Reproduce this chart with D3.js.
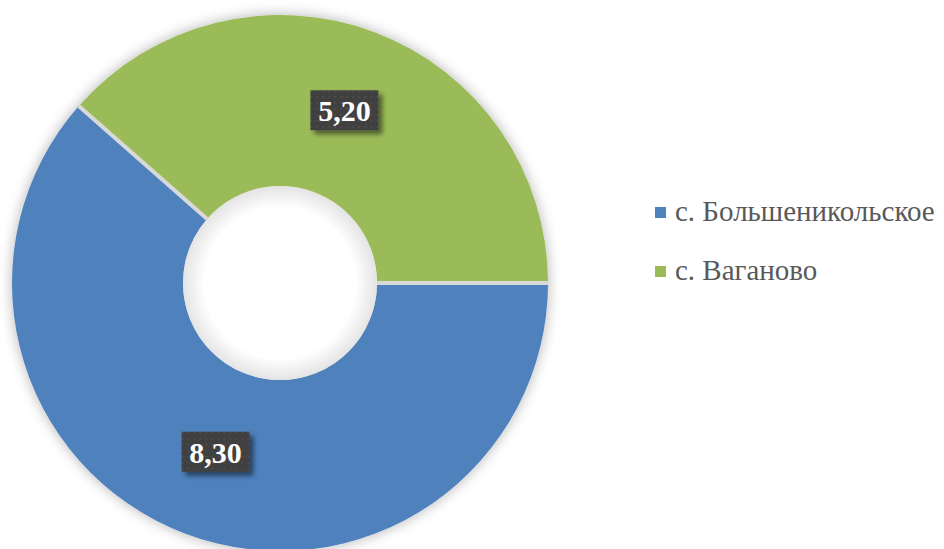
<!DOCTYPE html>
<html>
<head>
<meta charset="utf-8">
<script src="https://cdn.jsdelivr.net/npm/d3@7"></script>
</head>
<body style="margin:0">
<div id="chart"></div>
<script>
var categories = ['с. Большеникольское', 'с. Ваганово'],
    values = [8.30, 5.20],
    labels = ['8,30', '5,20'],
    colors = ['#4f81bd', '#9bbb59'];

var width = 944, height = 549,
    cx = 280, cy = 283,
    outerR = 268, innerR = 97,
    serif = 'Liberation Serif';

var svg = d3.select('#chart').append('svg')
    .attr('width', width)
    .attr('height', height)
    .style('display', 'block');

var defs = svg.append('defs');

// soft shadow round the ring
var f = defs.append('filter').attr('id', 'shadow')
    .attr('x', '-10%').attr('y', '-10%').attr('width', '120%').attr('height', '120%');
f.append('feGaussianBlur').attr('in', 'SourceAlpha').attr('stdDeviation', 7).attr('result', 'b');
f.append('feComponentTransfer').attr('in', 'b').attr('result', 's')
  .append('feFuncA').attr('type', 'linear').attr('slope', 0.3);
var m = f.append('feMerge');
m.append('feMergeNode').attr('in', 's');
m.append('feMergeNode').attr('in', 'SourceGraphic');

// label box shadow
var f2 = defs.append('filter').attr('id', 'boxshadow')
    .attr('x', '-20%').attr('y', '-20%').attr('width', '150%').attr('height', '170%');
f2.append('feGaussianBlur').attr('in', 'SourceAlpha').attr('stdDeviation', 2.5).attr('result', 'b');
f2.append('feOffset').attr('in', 'b').attr('dx', 4).attr('dy', 4).attr('result', 'o');
f2.append('feComponentTransfer').attr('in', 'o').attr('result', 's')
  .append('feFuncA').attr('type', 'linear').attr('slope', 0.5);
var m2 = f2.append('feMerge');
m2.append('feMergeNode').attr('in', 's');
m2.append('feMergeNode').attr('in', 'SourceGraphic');

// dotted dark fill of the labels
var pat = defs.append('pattern').attr('id', 'dots')
    .attr('width', 6).attr('height', 6).attr('patternUnits', 'userSpaceOnUse');
pat.append('rect').attr('width', 6).attr('height', 6).attr('fill', '#3f3f3f');
pat.append('rect').attr('x', 2).attr('y', 2).attr('width', 1.5).attr('height', 1.5).attr('fill', '#555');

// inner hole shading
var rg = defs.append('radialGradient').attr('id', 'hole');
rg.append('stop').attr('offset', '78%').attr('stop-color', '#fff');
rg.append('stop').attr('offset', '100%').attr('stop-color', '#e4e4e4');

var pie = d3.pie()
    .sort(null)
    .startAngle(Math.PI / 2)
    .endAngle(Math.PI / 2 + 2 * Math.PI);

var arc = d3.arc()
    .innerRadius(innerR)
    .outerRadius(outerR);

var arcs = pie(values);

var g = svg.append('g')
    .attr('transform', 'translate(' + cx + ',' + cy + ')');

g.append('g')
    .attr('filter', 'url(#shadow)')
  .selectAll('path')
    .data(arcs)
  .enter().append('path')
    .attr('d', arc)
    .attr('fill', function(d, i){ return colors[i]; });

g.append('circle')
    .attr('r', innerR)
    .attr('fill', 'url(#hole)');

// separators between slices
g.selectAll('.sep')
    .data(arcs)
  .enter().append('line')
    .attr('class', 'sep')
    .attr('x1', function(d){ return Math.sin(d.startAngle) * innerR; })
    .attr('y1', function(d){ return -Math.cos(d.startAngle) * innerR; })
    .attr('x2', function(d){ return Math.sin(d.startAngle) * outerR; })
    .attr('y2', function(d){ return -Math.cos(d.startAngle) * outerR; })
    .attr('stroke', '#d9d9d9')
    .attr('stroke-width', 4);

var lab = g.selectAll('.lab')
    .data(arcs)
  .enter().append('g')
    .attr('class', 'lab')
    .attr('transform', function(d){ return 'translate(' + arc.centroid(d) + ')'; });

lab.append('rect')
    .attr('x', -34).attr('y', -22)
    .attr('width', 68).attr('height', 40)
    .attr('fill', 'url(#dots)')
    .attr('filter', 'url(#boxshadow)');

lab.append('text')
    .attr('text-anchor', 'middle')
    .attr('y', 9)
    .attr('fill', '#fff')
    .attr('font-family', serif)
    .attr('font-weight', 'bold')
    .attr('font-size', 30)
    .text(function(d, i){ return labels[i]; });

// legend
var leg = svg.append('g')
    .selectAll('g')
    .data(categories)
  .enter().append('g')
    .attr('transform', function(d, i){ return 'translate(655,' + (207 + i * 59) + ')'; });

leg.append('rect')
    .attr('width', 11).attr('height', 11)
    .attr('fill', function(d, i){ return colors[i]; });

leg.append('text')
    .attr('x', 20)
    .attr('y', 14)
    .attr('fill', '#595959')
    .attr('font-family', serif)
    .attr('font-size', 29)
    .text(function(d){ return d; });
</script>
</body>
</html>
